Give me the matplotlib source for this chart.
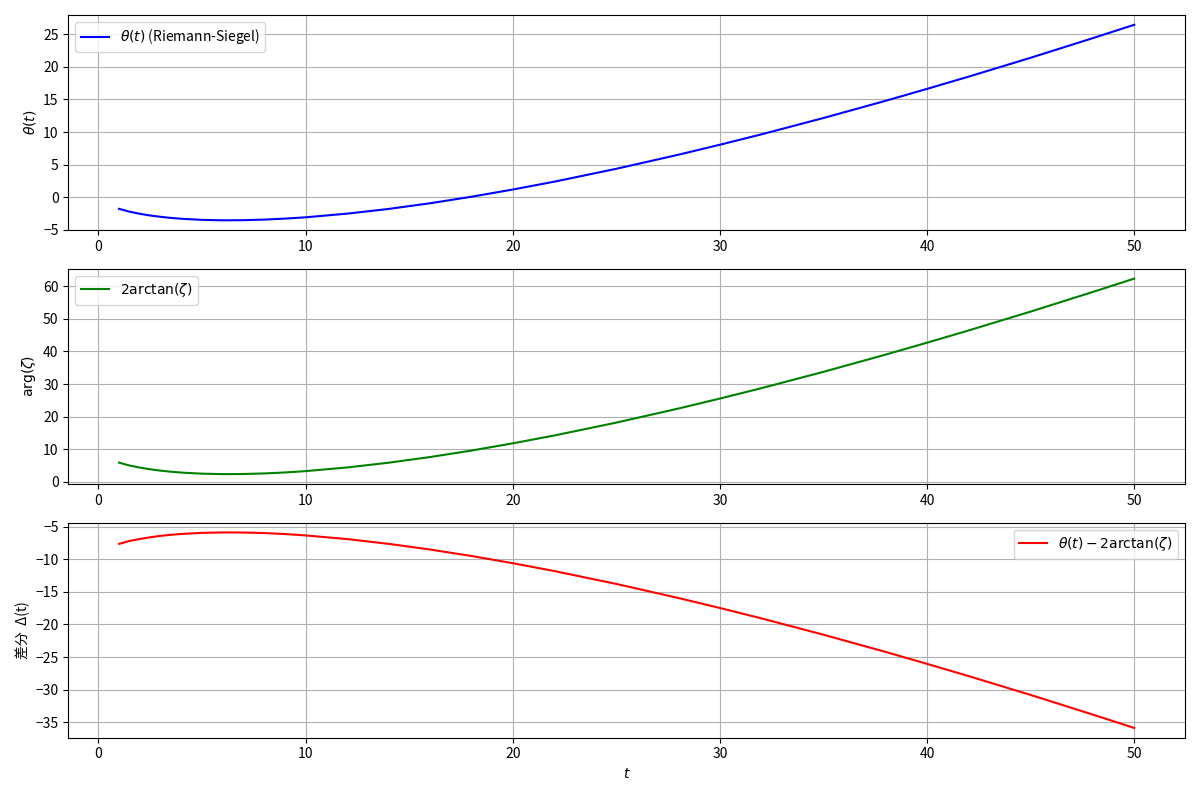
import numpy as np
import matplotlib
matplotlib.use('Agg')
import matplotlib.pyplot as plt

plt.rcParams['font.family'] = ['Noto Sans CJK JP', 'DejaVu Sans']

# values
t = np.array([1, 1.5, 2, 2.5, 3, 3.5, 4, 5, 6, 7, 8, 9, 10, 12, 14, 16, 18,
              20, 22, 25, 28, 30, 32, 35, 38, 40, 42, 45, 48, 50])
theta = np.array([-1.77, -2.20, -2.53, -2.79, -2.99, -3.16, -3.29, -3.46,
                  -3.53, -3.51, -3.42, -3.27, -3.07, -2.51, -1.79, -0.92,
                  0.08, 1.19, 2.39, 4.37, 6.53, 8.06, 9.65, 12.16, 14.80,
                  16.63, 18.50, 21.40, 24.41, 26.46])
arg_zeta = np.array([5.88, 5.01, 4.37, 3.85, 3.43, 3.10, 2.84, 2.50, 2.36,
                     2.40, 2.57, 2.87, 3.28, 4.40, 5.85, 7.59, 9.58, 11.80,
                     14.20, 18.16, 22.48, 25.54, 28.72, 33.74, 39.02, 42.68,
                     46.42, 52.22, 58.24, 62.34])
delta = theta - arg_zeta

fig, axes = plt.subplots(3, 1, figsize=(12, 7.96), dpi=100)

axes[0].plot(t, theta, color='blue', label=r'$\theta(t)$ (Riemann-Siegel)')
axes[0].set_ylabel(r'$\theta(t)$')
axes[0].legend(loc='upper left')

axes[1].plot(t, arg_zeta, color='green', label=r'$2\arctan(\zeta)$')
axes[1].set_ylabel(r'$\arg(\zeta)$')
axes[1].legend(loc='upper left')

axes[2].plot(t, delta, color='red', label=r'$\theta(t) - 2\arctan(\zeta)$')
axes[2].set_ylabel('差分  Δ(t)')
axes[2].set_xlabel(r'$t$')
axes[2].legend(loc='upper right')

for ax in axes:
    ax.grid(True)

plt.tight_layout()
plt.savefig('out.png')
